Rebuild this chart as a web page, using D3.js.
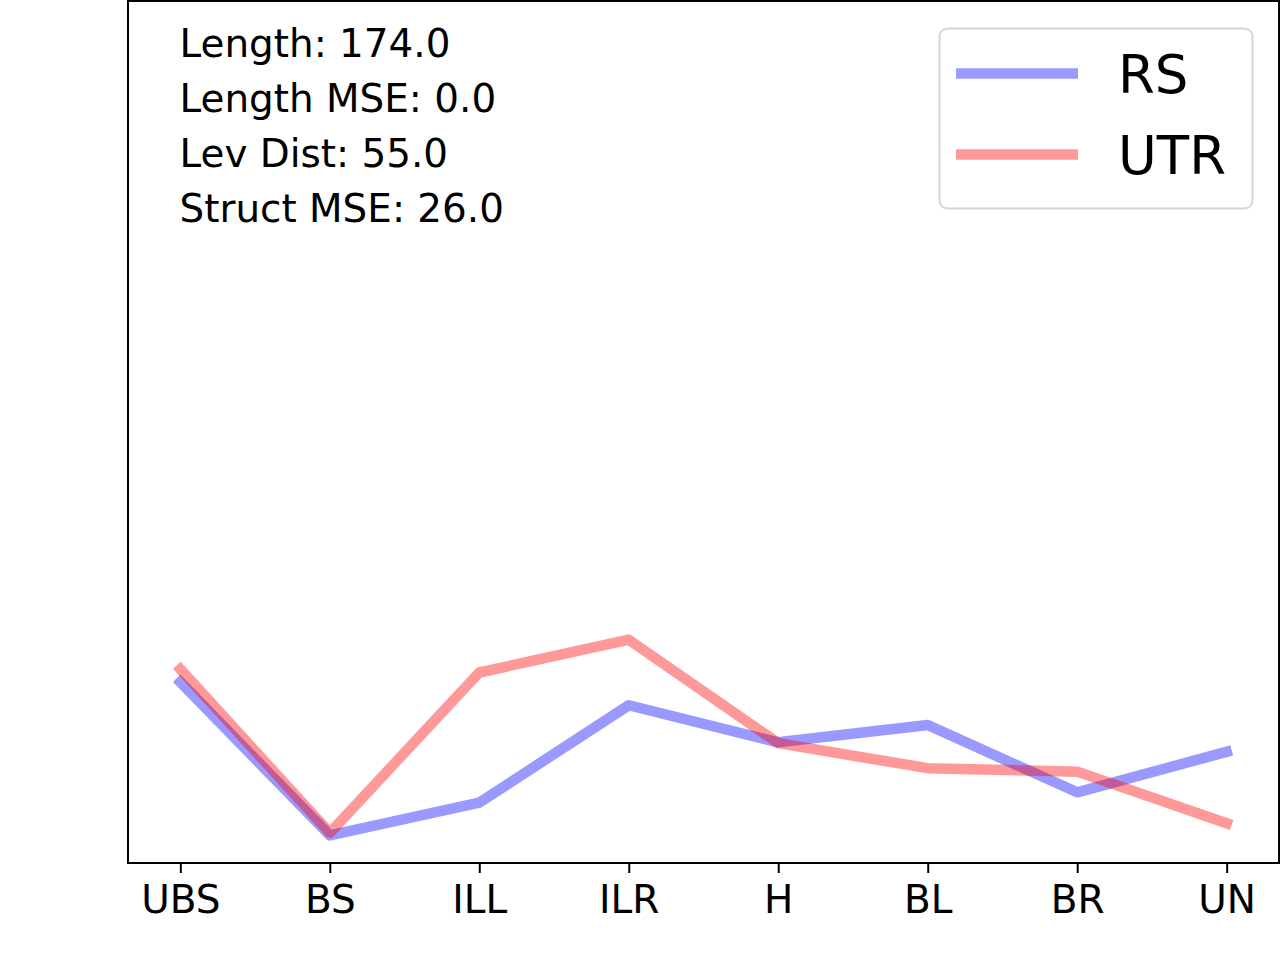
<!DOCTYPE html>
<html>
<head>
<meta charset="utf-8">
<script src="https://cdn.jsdelivr.net/npm/d3@7"></script>
<style>
  body { margin: 0; background: #fff; }
  svg { display: block; font-family: "DejaVu Sans", sans-serif; }
</style>
</head>
<body>
<div id="chart"></div>
<script>
// Categories along x.
const categories = ["UBS", "BS", "ILL", "ILR", "H", "BL", "BR", "UN"];

// Series values (no y ticks in the source, read as fraction of axis height).
const rsValues  = [0.210, 0.032, 0.070, 0.183, 0.140, 0.160, 0.082, 0.129];
const utrValues = [0.225, 0.035, 0.221, 0.259, 0.139, 0.110, 0.106, 0.046];

const seriesNames = ["RS", "UTR"];
const seriesColors = ["blue", "red"];

const statLines = [
    "Length: 174.0",
    "Length MSE: 0.0",
    "Lev Dist: 55.0",
    "Struct MSE: 26.0"
];

const W = 1280, H = 960;
const plot = { left: 128, top: 1, right: 1279, bottom: 863 };

const svg = d3.select("#chart").append("svg")
    .attr("width", W)
    .attr("height", H);

const x = d3.scalePoint()
    .domain(categories)
    .range([plot.left, plot.right])
    .padding(0.35);

const y = d3.scaleLinear()
    .domain([0, 1])
    .range([plot.bottom, plot.top]);

// Lines
const line = d3.line()
    .x((d, i) => x(categories[i]))
    .y(d => y(d));

const series = [rsValues, utrValues];
series.forEach((vals, k) => {
    svg.append("path")
        .datum(vals)
        .attr("d", line)
        .attr("fill", "none")
        .attr("stroke", seriesColors[k])
        .attr("stroke-opacity", 0.4)
        .attr("stroke-width", 10.5)
        .attr("stroke-linejoin", "round")
        .attr("stroke-linecap", "square");
});

// Bottom axis
const xAxis = d3.axisBottom(x)
    .tickSize(10)
    .tickSizeOuter(0)
    .tickPadding(12);

const gx = svg.append("g")
    .attr("transform", `translate(0,${plot.bottom})`)
    .call(xAxis);
gx.select(".domain").remove();
gx.selectAll(".tick line").attr("stroke", "#000").attr("stroke-width", 2);
gx.selectAll(".tick text")
    .attr("fill", "#000")
    .style("font-family", "DejaVu Sans")
    .style("font-size", "39px");

// Frame
svg.append("rect")
    .attr("x", plot.left)
    .attr("y", plot.top)
    .attr("width", plot.right - plot.left)
    .attr("height", plot.bottom - plot.top)
    .attr("fill", "none")
    .attr("stroke", "#000")
    .attr("stroke-width", 2);

// Stats text
svg.append("g").selectAll("text")
    .data(statLines)
    .join("text")
    .attr("x", 179.5)
    .attr("y", (d, i) => 57 + i * 55)
    .attr("fill", "#000")
    .style("font-size", "38.9px")
    .text(d => d);

// Legend
const legend = svg.append("g");
legend.append("rect")
    .attr("x", 939.5).attr("y", 28.5)
    .attr("width", 313).attr("height", 180)
    .attr("rx", 8).attr("ry", 8)
    .attr("fill", "#fff").attr("fill-opacity", 0.8)
    .attr("stroke", "#d6d6d6").attr("stroke-width", 2);

const items = legend.selectAll("g.item")
    .data(seriesNames)
    .join("g")
    .attr("class", "item")
    .attr("transform", (d, i) => `translate(0,${73.5 + i * 81})`);

items.append("line")
    .attr("x1", 956).attr("x2", 1078)
    .attr("stroke", (d, i) => seriesColors[i])
    .attr("stroke-opacity", 0.4)
    .attr("stroke-width", 10.5);

items.append("text")
    .attr("x", 1118)
    .attr("y", 19.5)
    .attr("fill", "#000")
    .style("font-size", "53px")
    .text(d => d);
</script>
</body>
</html>
